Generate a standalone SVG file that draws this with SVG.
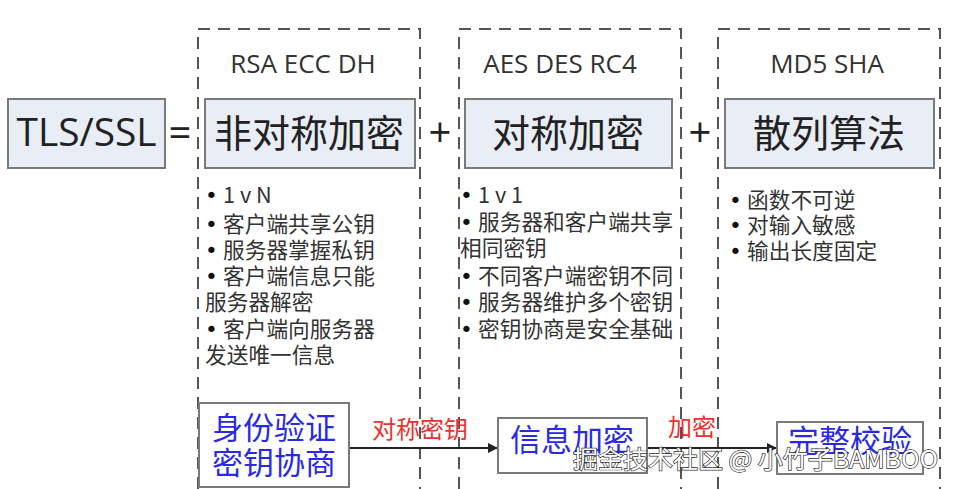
<svg xmlns="http://www.w3.org/2000/svg" width="957" height="489" viewBox="0 0 957 489">
<style>
.dash{fill:none;stroke:#555;stroke-width:2;stroke-dasharray:12 8}
.box{fill:#e9edf5;stroke:#7a7a7a;stroke-width:2}
.wbox{fill:#fff;stroke:#7a7a7a;stroke-width:2}
.lat{font-family:"Open Sans","Noto Sans","Noto Sans CJK SC",sans-serif;fill:#222}
.cjk{font-family:"Noto Sans CJK SC",sans-serif;fill:#222}
.big{font-size:38px}
.hdr{font-size:26px;fill:#333}
.li{font-size:21.7px;fill:#333}
.b{font-family:"DejaVu Sans",sans-serif;fill:#111}
.blue{font-family:"Noto Sans CJK SC",sans-serif;fill:#2a2ae6;font-size:31px}
.red{font-family:"Noto Sans CJK SC",sans-serif;fill:#ee3030;font-size:24px}
.conn{stroke:#222;stroke-width:2;fill:none}
.wm{font-family:"Noto Sans CJK SC",sans-serif;font-size:24px;fill:#fff;stroke:#333;stroke-width:1.4;paint-order:stroke}
</style>
<defs>
<marker id="ah" markerWidth="10" markerHeight="10" refX="9" refY="5" orient="auto" markerUnits="userSpaceOnUse">
<path d="M0,0 L10,5 L0,10 z" fill="#222"/>
</marker>
</defs>

<g id="tls">
<rect class="box" x="8" y="99" width="157" height="69"/>
<text class="lat big" x="86.5" y="146" text-anchor="middle" textLength="140" lengthAdjust="spacingAndGlyphs">TLS/SSL</text>
</g>
<text class="lat" x="180" y="147" font-size="40" text-anchor="middle">=</text>

<g id="asym">
<path class="dash" d="M198,489 V29 H420 V489"/>
<text class="lat hdr" x="303" y="73" text-anchor="middle">RSA ECC DH</text>
<rect class="box" x="205" y="99" width="210" height="69"/>
<text class="cjk big" x="309" y="147" text-anchor="middle">非对称加密</text>
<g class="cjk li">
<text x="205" y="203"><tspan class="b">•</tspan><tspan x="223">1 v N</tspan></text>
<text x="205" y="232"><tspan class="b">•</tspan><tspan x="223">客户端共享公钥</tspan></text>
<text x="205" y="258"><tspan class="b">•</tspan><tspan x="223">服务器掌握私钥</tspan></text>
<text x="205" y="284"><tspan class="b">•</tspan><tspan x="223">客户端信息只能</tspan></text>
<text x="205" y="310">服务器解密</text>
<text x="205" y="337"><tspan class="b">•</tspan><tspan x="223">客户端向服务器</tspan></text>
<text x="205" y="363">发送唯一信息</text>
</g>
</g>
<text class="lat" x="440" y="147" font-size="40" text-anchor="middle">+</text>

<g id="sym">
<path class="dash" d="M459,489 V29 H681 V489"/>
<text class="lat hdr" x="560" y="73" text-anchor="middle">AES DES RC4</text>
<rect class="box" x="465" y="99" width="207" height="69"/>
<text class="cjk big" x="568" y="147" text-anchor="middle">对称加密</text>
<g class="cjk li">
<text x="460" y="203"><tspan class="b">•</tspan><tspan x="478">1 v 1</tspan></text>
<text x="460" y="230"><tspan class="b">•</tspan><tspan x="478">服务器和客户端共享</tspan></text>
<text x="460" y="256">相同密钥</text>
<text x="460" y="284"><tspan class="b">•</tspan><tspan x="478">不同客户端密钥不同</tspan></text>
<text x="460" y="310"><tspan class="b">•</tspan><tspan x="478">服务器维护多个密钥</tspan></text>
<text x="460" y="337"><tspan class="b">•</tspan><tspan x="478">密钥协商是安全基础</tspan></text>
</g>
</g>
<text class="lat" x="700" y="147" font-size="40" text-anchor="middle">+</text>

<g id="hash">
<path class="dash" d="M718,489 V29 H940 V489"/>
<text class="lat hdr" x="827" y="73" text-anchor="middle">MD5 SHA</text>
<rect class="box" x="725" y="99" width="209" height="69"/>
<text class="cjk big" x="829" y="147" text-anchor="middle">散列算法</text>
<g class="cjk li">
<text x="729" y="208"><tspan class="b">•</tspan><tspan x="747">函数不可逆</tspan></text>
<text x="729" y="233"><tspan class="b">•</tspan><tspan x="747">对输入敏感</tspan></text>
<text x="729" y="259"><tspan class="b">•</tspan><tspan x="747">输出长度固定</tspan></text>
</g>
</g>

<g id="connectors">
<line class="conn" x1="349" y1="448" x2="497" y2="448" marker-end="url(#ah)"/>
<text class="red" x="420" y="438" text-anchor="middle">对称密钥</text>
<line class="conn" x1="647" y1="448" x2="776" y2="448" marker-end="url(#ah)"/>
<text class="red" x="692" y="436" text-anchor="middle">加密</text>
</g>

<g id="auth">
<rect class="wbox" x="199" y="403" width="150" height="84"/>
<text class="blue" x="274" y="439" text-anchor="middle">身份验证</text>
<text class="blue" x="274" y="474" text-anchor="middle">密钥协商</text>
</g>

<g id="encrypt">
<rect class="wbox" x="498" y="418" width="149" height="55"/>
<text class="blue" x="572" y="451" text-anchor="middle" font-size="30">信息加密</text>
</g>

<g id="verify">
<rect class="wbox" x="777" y="422" width="146" height="52"/>
<text class="blue" x="850" y="452" text-anchor="middle">完整校验</text>
</g>

<text class="wm" x="573" y="468" textLength="365" lengthAdjust="spacingAndGlyphs">掘金技术社区 @ 小竹子BAMBOO</text>
</svg>
